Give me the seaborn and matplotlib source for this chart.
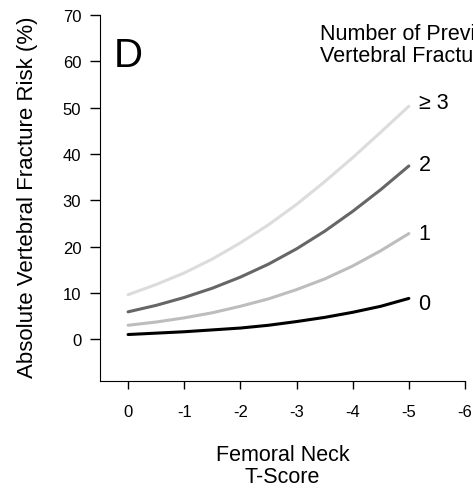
import matplotlib
matplotlib.use("Agg")
import matplotlib.pyplot as plt
import seaborn as sns
import pandas as pd

# femoral neck T-score (x) and absolute risk (%)
tscore = [0, -0.5, -1, -1.5, -2, -2.5, -3, -3.5, -4, -4.5, -5]
risk_0 = [1.0, 1.3, 1.6, 2.0, 2.4, 3.0, 3.8, 4.7, 5.8, 7.1, 8.8]
risk_1 = [3.0, 3.7, 4.6, 5.7, 7.1, 8.7, 10.7, 13.0, 15.8, 19.1, 22.8]
risk_2 = [5.9, 7.3, 9.0, 11.0, 13.4, 16.2, 19.5, 23.3, 27.6, 32.3, 37.4]
risk_3 = [9.6, 11.8, 14.3, 17.3, 20.8, 24.7, 29.1, 34.0, 39.2, 44.7, 50.3]
groups = ["0", "1", "2", "\u2265 3"]
colors = ["#000000", "#bdbdbd", "#666666", "#dcdcdc"]
xticks = [0, -1, -2, -3, -4, -5, -6]
yticks = [0, 10, 20, 30, 40, 50, 60, 70]

sns.set_style("ticks", {"axes.edgecolor": "black", "text.color": "black",
                        "xtick.color": "black", "ytick.color": "black",
                        "axes.labelcolor": "black"})
plt.rcParams['font.family'] = ['Liberation Sans', 'DejaVu Sans']

df = pd.DataFrame({
    "T": tscore * 4,
    "risk": risk_0 + risk_1 + risk_2 + risk_3,
    "group": [g for g in groups for _ in tscore],
})

fig = plt.figure(figsize=(4.73, 4.89), dpi=100)
ax = fig.add_axes([100 / 473, 1 - 382.3 / 489, 365 / 473, 366.3 / 489])

sns.lineplot(data=df, x="T", y="risk", hue="group", palette=dict(zip(groups, colors)),
             linewidth=2.2, legend=False, ax=ax)

# end-of-line labels, small vertical nudges (points) to sit like the original
nudge = {"0": -2, "1": 1.5, "2": 3, "\u2265 3": 4.5}
for g in groups:
    sub = df[df.group == g]
    ax.annotate(g, (sub["T"].iloc[-1], sub["risk"].iloc[-1]),
                xytext=(7, nudge[g]), textcoords="offset points", fontsize=15.5,
                ha="left", va="center_baseline", color="black")

ax.set_xlim(0.5, -6)
ax.set_ylim(-9.1, 70)
ax.set_xticks(xticks)
ax.set_xticklabels([str(v) for v in xticks])
ax.set_yticks(yticks)
ax.tick_params(axis="y", length=7.5, width=1, pad=6, labelsize=12)
ax.tick_params(axis="x", length=5.5, width=1, pad=11, labelsize=12)
for s in ["top", "right"]:
    ax.spines[s].set_visible(False)
ax.spines["left"].set_bounds(-9.1, 70)
ax.spines["bottom"].set_bounds(0.5, -6)

ax.set_xlabel("Femoral Neck\nT-Score", fontsize=15.5, labelpad=18, linespacing=1.05)
ax.set_ylabel("Absolute Vertebral Fracture Risk (%)", fontsize=16)
ax.yaxis.set_label_coords(-0.17, 0.505)

ax.text(0.038, 0.861, "D", transform=ax.transAxes, fontsize=29,
        ha="left", va="baseline")
fig.text(320 / 473, 1 - 62 / 489, "Number of Previous\nVertebral Fractures",
         fontsize=15.5, ha="left", va="baseline", linespacing=1.05)

fig.savefig("out.png", dpi=100)
